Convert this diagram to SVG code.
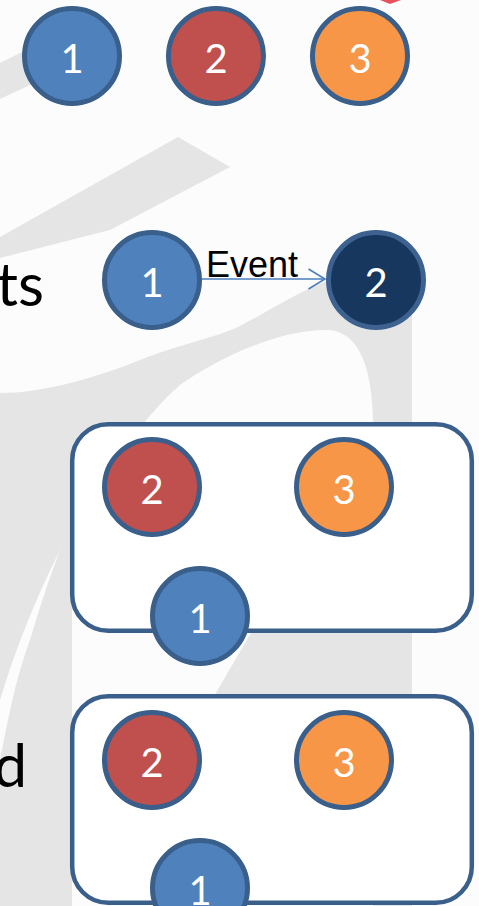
<svg xmlns="http://www.w3.org/2000/svg" width="479" height="906" viewBox="0 0 479 906">
  <defs>
    <style>
      .wm { fill: #e5e5e5; stroke: none; }
      .node circle { stroke: #3a5f8b; stroke-width: 5; }
      .blue circle { fill: #4f81bd; }
      .red circle { fill: #c0504d; }
      .orange circle { fill: #f79646; }
      .dark circle { fill: #17375e; stroke: #3d6290; }
      .node text { fill: #ffffff; font-family: Lato, "Open Sans", sans-serif; font-size: 40px; text-anchor: middle; }
      .box { fill: #ffffff; stroke: #3a5f8b; stroke-width: 4.5; }
      .label { fill: #000000; font-family: Lato, "Open Sans", sans-serif; font-size: 60px; text-anchor: end; }
      .edge { stroke: #4a7ebb; stroke-width: 1.6; fill: none; }
      .elabel { fill: #000000; font-family: "Liberation Sans", Arial, sans-serif; font-size: 36px; }
    </style>
    <marker id="open-arrow" markerUnits="userSpaceOnUse" viewBox="0 0 19 23" refX="17.5" refY="11.5" markerWidth="19" markerHeight="23" orient="auto">
      <path d="M1,1.5 L17.5,11.5 L1,21.5" fill="none" stroke="#4a7ebb" stroke-width="1.6"/>
    </marker>
  </defs>

  <rect x="0" y="0" width="479" height="906" fill="#fcfcfc"/>

  <g id="watermark">
    <polygon class="wm" points="0,63 38,44 58,72 0,99"/>
    <polygon class="wm" points="178,137 230,167 110,230 0,258 0,237"/>
    <path class="wm" d="M0,393 C40,393 90,380 140,360 C180,344 215,338 240,326 C290,300 330,268 412,262 L412,906 L373,906 L373,420 C372,370 360,333 330,330 C280,328 215,360 180,385 C140,420 100,480 60,550 C35,600 15,650 0,700 Z"/>
    <path class="wm" d="M0,760 C8,720 15,680 30,640 C42,600 55,560 72,520 L72,906 L0,906 Z"/>
    <polygon class="wm" points="213,698 252,631 373,631 373,698"/>
    <polygon points="380,0 401,0 390,4" fill="#e8505e"/>
  </g>

  <g id="n1-top" class="node blue"><circle cx="72" cy="56" r="47.5"/><text x="72" y="73">1</text></g>
  <g id="n2-top" class="node red"><circle cx="216" cy="56" r="47.5"/><text x="216" y="73">2</text></g>
  <g id="n3-top" class="node orange"><circle cx="360" cy="56" r="47.5"/><text x="360" y="73">3</text></g>

  <text id="label-ts" class="label" x="44" y="306">ts</text>

  <g id="connectors">
    <line class="edge" x1="202" y1="279" x2="325" y2="279" marker-end="url(#open-arrow)"/>
    <text class="elabel" x="206" y="277">Event</text>
  </g>

  <g id="n1-event" class="node blue"><circle cx="152" cy="280" r="47.5"/><text x="152" y="297">1</text></g>
  <g id="n2-event" class="node dark"><circle cx="376" cy="280" r="47.5"/><text x="376" y="297">2</text></g>

  <g id="group-a">
    <rect class="box" x="72.2" y="424.2" width="399.6" height="206.6" rx="36" ry="36"/>
    <g id="a-n2" class="node red"><circle cx="152" cy="487" r="47.5"/><text x="152" y="504">2</text></g>
    <g id="a-n3" class="node orange"><circle cx="344" cy="487" r="47.5"/><text x="344" y="504">3</text></g>
    <g id="a-n1" class="node blue"><circle cx="200" cy="616" r="47.5"/><text x="200" y="633">1</text></g>
  </g>

  <text id="label-d" class="label" x="27" y="787">d</text>

  <g id="group-b">
    <rect class="box" x="72.2" y="696.2" width="399.6" height="206.6" rx="36" ry="36"/>
    <g id="b-n2" class="node red"><circle cx="152" cy="760" r="47.5"/><text x="152" y="777">2</text></g>
    <g id="b-n3" class="node orange"><circle cx="344" cy="760" r="47.5"/><text x="344" y="777">3</text></g>
    <g id="b-n1" class="node blue"><circle cx="200" cy="888" r="47.5"/><text x="200" y="905">1</text></g>
  </g>
</svg>
